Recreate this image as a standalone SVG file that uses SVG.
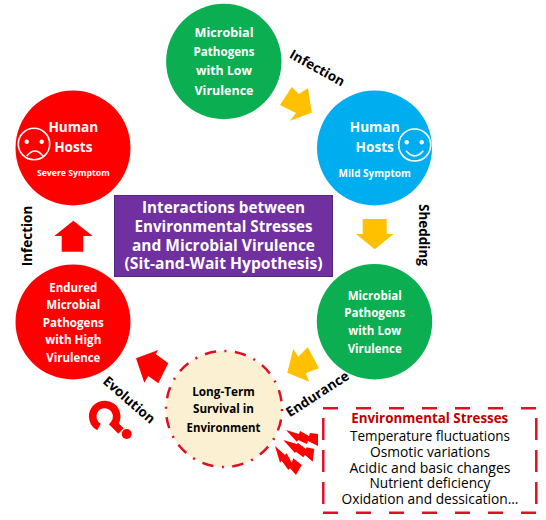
<svg xmlns="http://www.w3.org/2000/svg" width="546" height="520" viewBox="0 0 546 520">
<style>
text{font-family:"Open Sans","Noto Sans","Liberation Sans",sans-serif;font-weight:700;text-anchor:middle;lengthAdjust:spacingAndGlyphs}
.w{fill:#fff;font-size:13px}
.h{fill:#fff;font-size:13.600px}
.k{fill:#000;font-size:13.500px}
.c{fill:#000;font-size:12.800px}
.t{fill:#fff;font-size:16px}
.s{fill:#000;font-size:14px;font-weight:400}
.y{fill:#ffc000}
.r{fill:#f00}
.face{fill:none;stroke:#fff;stroke-width:1.600}
.dh{fill:none;stroke:#e00f25;stroke-width:2.500;stroke-dasharray:15 18}
.dv{fill:none;stroke:#e00f25;stroke-width:2.500;stroke-dasharray:22 10}
</style>
<rect width="546" height="520" fill="#fff"/>
<g id="connectors">
<polygon class="y" points="291.700,87 299,94 308,88 311.700,112.700 290,120.700 296,113 280,105"/>
<polygon class="y" points="362.700,219 386.700,219 386.700,234 393.700,234 374.700,249.300 356,234 362.700,234"/>
<polygon class="y" points="307.700,347.300 319,368.300 305.700,373.300 309.300,381.700 287.300,372.700 293.300,349 298.300,356.700"/>
<polygon class="r" points="158.300,350 155.700,354 168.300,363.300 158.300,383.300 148.300,376 144.300,382.700 136,358.300"/>
<polygon class="r" points="73.300,220.700 92.700,236 83.300,236 83.300,251.700 61.700,251.700 61.700,236 54.300,236"/>
</g>
<g id="node-pathogen-low-top">
<circle cx="223.800" cy="61.500" r="57.700" fill="#0bae50"/>
<text class="w" x="224" y="36.700" textLength="59" lengthAdjust="spacingAndGlyphs">Microbial</text>
<text class="w" x="224" y="56" textLength="61" lengthAdjust="spacingAndGlyphs">Pathogens</text>
<text class="w" x="224" y="75" textLength="56" lengthAdjust="spacingAndGlyphs">with Low</text>
<text class="w" x="224" y="94.700" textLength="59" lengthAdjust="spacingAndGlyphs">Virulence</text>
</g>
<g id="node-human-mild">
<circle cx="374.500" cy="148" r="57.500" fill="#00aeef"/>
<text class="h" x="374.700" y="131.700">Human</text>
<text class="h" x="374.700" y="151.700">Hosts</text>
<text class="w" x="374.700" y="176.700" style="font-size:10px">Mild Symptom</text>
<g id="smile">
<circle class="face" cx="414.700" cy="145" r="16"/>
<circle cx="406.700" cy="142.300" r="2.200" fill="#fff"/><circle cx="421.700" cy="142.300" r="2.200" fill="#fff"/>
<path class="face" d="M406 150.700Q414.700 161 423.300 150.700"/>
</g>
</g>
<g id="node-human-severe">
<circle cx="73" cy="148" r="57.500" fill="#f00"/>
<text class="h" x="73.300" y="131.700">Human</text>
<text class="h" x="73.300" y="151.700">Hosts</text>
<text class="w" x="73.300" y="176" style="font-size:8.700px">Severe Symptom</text>
<g id="frown">
<circle class="face" cx="34" cy="144" r="15.700"/>
<circle cx="26.700" cy="141.700" r="2.200" fill="#fff"/><circle cx="41.700" cy="141.700" r="2.200" fill="#fff"/>
<path class="face" d="M26.700 156Q35 146 43 156"/>
</g>
</g>
<g id="node-center">
<rect x="114.500" y="195.500" width="218" height="81" fill="#7030a0" stroke="#4a2a80"/>
<text class="t" x="223.500" y="213.300" textLength="163" lengthAdjust="spacingAndGlyphs">Interactions between</text>
<text class="t" x="223.500" y="231.700" textLength="178" lengthAdjust="spacingAndGlyphs">Environmental Stresses</text>
<text class="t" x="223.500" y="250.700" textLength="183" lengthAdjust="spacingAndGlyphs">and Microbial Virulence</text>
<text class="t" x="223.500" y="269" textLength="198" lengthAdjust="spacingAndGlyphs">(Sit-and-Wait Hypothesis)</text>
</g>
<g id="node-pathogen-low-right">
<circle cx="374.500" cy="321.700" r="57.700" fill="#0bae50"/>
<text class="w" x="374.700" y="300" textLength="54" lengthAdjust="spacingAndGlyphs">Microbial</text>
<text class="w" x="374.700" y="317.300" textLength="61" lengthAdjust="spacingAndGlyphs">Pathogens</text>
<text class="w" x="374.700" y="335" textLength="53" lengthAdjust="spacingAndGlyphs">with Low</text>
<text class="w" x="374.700" y="352.700" textLength="54" lengthAdjust="spacingAndGlyphs">Virulence</text>
</g>
<g id="node-pathogen-high">
<circle cx="73" cy="322" r="57.500" fill="#f00"/>
<text class="w" x="73.300" y="291.700" textLength="48" lengthAdjust="spacingAndGlyphs">Endured</text>
<text class="w" x="73.300" y="309" textLength="54" lengthAdjust="spacingAndGlyphs">Microbial</text>
<text class="w" x="73.300" y="326.700" textLength="61" lengthAdjust="spacingAndGlyphs">Pathogens</text>
<text class="w" x="73.300" y="344" textLength="56" lengthAdjust="spacingAndGlyphs">with High</text>
<text class="w" x="73.300" y="361.700" textLength="54" lengthAdjust="spacingAndGlyphs">Virulence</text>
</g>
<g id="node-survival">
<circle cx="224" cy="409" r="58" fill="#fbf0d2" stroke="#e00f25" stroke-width="2.500" stroke-dasharray="2 8.500 11.400 8.470"/>
<text class="c" x="223.500" y="396" textLength="62.700" lengthAdjust="spacingAndGlyphs">Long-Term</text>
<text class="c" x="223.500" y="413.300" textLength="61" lengthAdjust="spacingAndGlyphs">Survival in</text>
<text class="c" x="223.500" y="431.700" textLength="74" lengthAdjust="spacingAndGlyphs">Environment</text>
</g>
<g id="node-stresses">
<path class="dh" d="M323 408.300H537"/>
<path class="dh" d="M323 512.700H537"/>
<path class="dv" d="M323.300 418V506"/>
<path class="dv" d="M536.300 418V506"/>
<text x="429.700" y="423.300" style="fill:#c00000;font-size:14px" textLength="157" lengthAdjust="spacingAndGlyphs">Environmental Stresses</text>
<text class="s" x="430" y="440.700" textLength="160" lengthAdjust="spacingAndGlyphs">Temperature fluctuations</text>
<text class="s" x="430" y="456.700" textLength="120" lengthAdjust="spacingAndGlyphs">Osmotic variations</text>
<text class="s" x="430" y="472.700" textLength="161" lengthAdjust="spacingAndGlyphs">Acidic and basic changes</text>
<text class="s" x="430" y="488.300" textLength="121" lengthAdjust="spacingAndGlyphs">Nutrient deficiency</text>
<text class="s" x="430" y="504.300" textLength="177" lengthAdjust="spacingAndGlyphs">Oxidation and dessication...</text>
</g>
<g id="labels">
<text class="k" transform="translate(315 72) rotate(29)">Infection</text>
<text class="k" transform="translate(418.500 235) rotate(90)">Shedding</text>
<text class="k" transform="translate(320 398) rotate(-33)">Endurance</text>
<text class="k" transform="translate(126 403.500) rotate(41)">Evolution</text>
<text class="k" transform="translate(31.700 236) rotate(-90)">Infection</text>
</g>
<g id="question">
<path d="M99 427A12 12 0 1 1 114 424L121 431" fill="none" stroke="#f00" stroke-width="7.500"/>
<circle cx="126.700" cy="434" r="5" fill="#f00"/>
</g>
<g id="lightning">
<polygon class="r" points="286,430 299,434 300,431 309,436 310,433 318,434 318,446 308,441 307,444 298,440 297,442"/>
<polygon class="r" points="283.300,440 296.700,444 298,443 306,449 306.700,447.300 314.300,449 312.700,461.700 305,455 303.300,457.300 296,451.700 295,453"/>
<polygon class="r" points="275,446 285,455 286.700,453.300 291.700,462.700 293.300,458.300 301.700,465 296,475 290,468.300 288.300,470 281.700,460.700 280,462.700"/>
</g>
</svg>
